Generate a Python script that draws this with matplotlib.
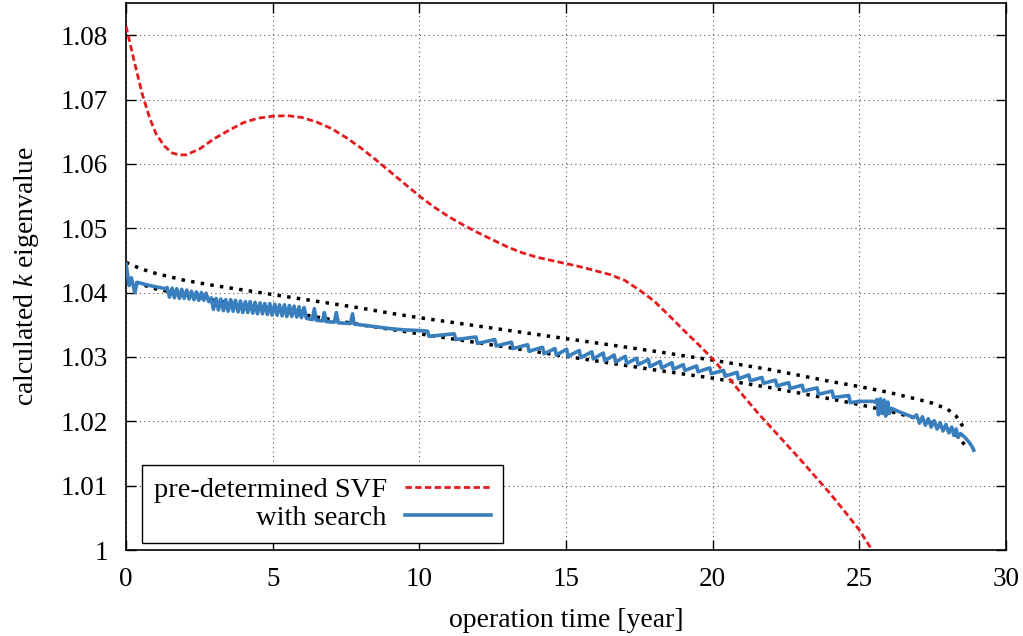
import matplotlib
matplotlib.use("Agg")
import matplotlib.pyplot as plt

plt.rcParams['font.family'] = ['Liberation Serif', 'DejaVu Serif']
plt.rcParams['mathtext.fontset'] = 'custom'
plt.rcParams['mathtext.it'] = 'Liberation Serif:italic'
plt.rcParams['mathtext.rm'] = 'Liberation Serif'

# ---- data ----
svf_x = [0.0, 0.25, 0.55, 0.8, 1.02, 1.3, 1.57, 1.8, 2.05, 2.5, 3.0, 3.5, 4.0, 4.5, 5.0,
         5.5, 6.0, 6.5, 7.0, 7.5, 8.0, 8.5, 9.0, 9.5, 10.0, 10.5, 11.0, 11.5, 12.0,
         12.5, 13.0, 13.5, 14.0, 14.5, 15.0, 15.5, 16.0, 16.5, 17.0, 17.5, 18.0,
         18.5, 19.0, 19.5, 20.0, 20.5, 21.0, 21.5, 22.0, 22.5, 23.0, 23.5, 24.0,
         24.5, 25.0, 25.5, 26.0]
svf_y = [1.0814, 1.0765, 1.0709, 1.0672, 1.0647, 1.0628, 1.0617, 1.0614, 1.0614, 1.0623,
         1.0639, 1.0652, 1.0664, 1.0671, 1.0674, 1.0675, 1.0672, 1.0665, 1.0655, 1.0641,
         1.0625, 1.0607, 1.0588, 1.0569, 1.0550, 1.0533, 1.0518, 1.0505, 1.0493, 1.0482,
         1.0471, 1.0462, 1.0455, 1.0450, 1.0445, 1.0440, 1.0434, 1.0428, 1.0419, 1.0404,
         1.0387, 1.0365, 1.0342, 1.0320, 1.0297, 1.0270, 1.0242, 1.0215, 1.0190, 1.0165,
         1.0140, 1.0114, 1.0088, 1.0060, 1.0031, 0.9995, 0.9958]

search_x = [0.0, 0.1, 0.18, 0.3, 0.38, 0.8, 1.35,
            1.40, 1.48, 1.57, 1.65, 1.73, 1.82, 1.90, 1.98, 2.07, 2.15, 2.23, 2.32, 2.40,
            2.48, 2.57, 2.65, 2.73, 2.82,
            2.90, 2.98, 3.07, 3.15, 3.23, 3.32, 3.40, 3.48, 3.57, 3.65, 3.73, 3.82, 3.90,
            3.98, 4.07, 4.15, 4.23, 4.32, 4.40, 4.48, 4.57, 4.65, 4.73, 4.82, 4.90, 4.98,
            5.07, 5.15, 5.23, 5.32, 5.40, 5.48, 5.57, 5.65, 5.73, 5.82, 5.90, 5.98, 6.07,
            6.15,
            6.35, 6.42, 6.48, 6.70, 6.76, 6.82, 7.10, 7.17, 7.23, 7.65, 7.72, 7.78, 8.5,
            9.0, 9.5, 10.0,
            10.28, 10.33, 11.19, 11.24, 11.93, 11.98, 12.57, 12.62, 13.14, 13.19, 13.69,
            13.74, 14.20, 14.25, 14.62, 14.67, 15.02, 15.07, 15.45, 15.50, 15.88, 15.93,
            16.27, 16.32, 16.64, 16.69, 17.02, 17.07, 17.41, 17.46, 17.81, 17.86, 18.21,
            18.26, 18.61, 18.66, 19.00, 19.05, 19.45, 19.50, 19.90, 19.95, 20.37, 20.42,
            20.83, 20.88, 21.23, 21.28, 21.68, 21.73, 22.14, 22.19, 22.59, 22.64, 23.05,
            23.10, 23.56, 23.61, 24.07, 24.12, 24.64, 24.69,
            25.0, 25.45, 25.55,
            25.6, 25.65, 25.72, 25.78, 25.85, 25.9, 25.97, 26.02, 26.1, 26.4, 26.85,
            26.95, 27.05, 27.15, 27.25, 27.35, 27.45, 27.55, 27.65, 27.75, 27.85, 27.95,
            28.05, 28.15, 28.22, 28.30, 28.37, 28.45,
            28.6, 28.75, 28.85, 28.9]
search_y = [1.0445, 1.0411, 1.0423, 1.0400, 1.0416, 1.0411, 1.0406,
            1.0408, 1.0393, 1.0407, 1.0392, 1.0406, 1.0391, 1.0405, 1.0391, 1.0404, 1.0390,
            1.0402, 1.0389, 1.0401, 1.0388, 1.0400, 1.0388, 1.0399, 1.0386,
            1.0392, 1.0374, 1.0391, 1.0373, 1.0390, 1.0372, 1.0389, 1.0371, 1.0389, 1.0371,
            1.0388, 1.0370, 1.0387, 1.0369, 1.0386, 1.0369, 1.0386, 1.0368, 1.0385, 1.0367,
            1.0384, 1.0367, 1.0383, 1.0366, 1.0383, 1.0365, 1.0382, 1.0365, 1.0381, 1.0364,
            1.0381, 1.0363, 1.0380, 1.0363, 1.0379, 1.0362, 1.0378, 1.0361, 1.0377, 1.0360,
            1.0358, 1.0375, 1.0357, 1.0356, 1.0369, 1.0355, 1.0354, 1.0369, 1.0353, 1.0352,
            1.0367, 1.0351, 1.0347, 1.0344, 1.0342, 1.0341,
            1.0340, 1.0332, 1.0336, 1.0327, 1.0331, 1.0321, 1.0327, 1.0317, 1.0323, 1.0313,
            1.0319, 1.0309, 1.0315, 1.0305, 1.0313, 1.0303, 1.0312, 1.0301, 1.0310, 1.0299,
            1.0308, 1.0297, 1.0306, 1.0294, 1.0303, 1.0292, 1.0301, 1.0290, 1.0298, 1.0288,
            1.0296, 1.0285, 1.0293, 1.0283, 1.0291, 1.0281, 1.0288, 1.0279, 1.0286, 1.0277,
            1.0283, 1.0274, 1.0279, 1.0270, 1.0276, 1.0266, 1.0272, 1.0263, 1.0268, 1.0259,
            1.0264, 1.0255, 1.0260, 1.0251, 1.0256, 1.0247, 1.0252, 1.0242, 1.0247, 1.0237,
            1.0240, 1.0229,
            1.0231, 1.0231, 1.0230,
            1.0234, 1.0210, 1.0235, 1.0212, 1.0233, 1.0208, 1.0230, 1.0212, 1.0220, 1.0214,
            1.0206,
            1.0210, 1.0197, 1.0207, 1.0194, 1.0204, 1.0191, 1.0201, 1.0188, 1.0198, 1.0185,
            1.0195, 1.0182, 1.0191, 1.0178, 1.0188, 1.0175, 1.0181,
            1.0175, 1.0167, 1.0160, 1.0155]

upper_x = [0, 0.5, 1, 2, 3, 4, 5, 6, 7, 8, 9, 10, 12, 14, 16, 18, 20, 22, 24, 25, 26,
           27, 27.5, 28, 28.3, 28.45, 28.6]
upper_y = [1.0447, 1.0437, 1.0430, 1.0419, 1.0411, 1.0404, 1.0397, 1.0390, 1.0383,
           1.0376, 1.0368, 1.0361, 1.0348, 1.0335, 1.0322, 1.0309, 1.0295, 1.0280,
           1.0262, 1.0254, 1.0245, 1.0234, 1.0228, 1.0219, 1.0208, 1.0198, 1.0186]

lower_x = [0, 0.5, 1, 2, 3, 4, 5, 6, 7, 8, 9, 10, 12, 14, 16, 18, 20, 22, 24, 25, 26,
           27, 27.5, 28, 28.3, 28.6]
lower_y = [1.0420, 1.0413, 1.0406, 1.0396, 1.0388, 1.0380, 1.0373, 1.0366, 1.0358,
           1.0350, 1.0343, 1.0336, 1.0322, 1.0308, 1.0294, 1.0280, 1.0267, 1.0252,
           1.0235, 1.0226, 1.0216, 1.0204, 1.0197, 1.0188, 1.0179, 1.0163]

x_ticks = [0, 5, 10, 15, 20, 25, 30]
y_ticks = [1.0, 1.01, 1.02, 1.03, 1.04, 1.05, 1.06, 1.07, 1.08]
y_ticklabels = ['1', '1.01', '1.02', '1.03', '1.04', '1.05', '1.06', '1.07', '1.08']

# ---- figure ----
fig = plt.figure(figsize=(10.23, 6.36), dpi=100)
ax = fig.add_axes([0.1232, 0.1352, 0.8602, 0.8601])

ax.plot(upper_x, upper_y, color='black', lw=2.5, dashes=(1, 1.8), zorder=3)
ax.plot(lower_x, lower_y, color='black', lw=2.5, dashes=(1, 1.8), zorder=3)
ax.plot(svf_x, svf_y, color='#e41a1c', lw=2.0, dashes=(2.3, 1.2),
        label='pre-determined SVF', zorder=4)
ax.plot(search_x, search_y, color='#3a7fbd', lw=2.6, label='with search', zorder=5)

ax.set_xlim(0, 30)
ax.set_ylim(1.0, 1.085)
ax.set_xticks(x_ticks)
ax.set_yticks(y_ticks)
ax.set_yticklabels(y_ticklabels)
ax.tick_params(direction='in', length=7, width=1, top=True, right=True,
               labelsize=19.5, colors='black')
ax.tick_params(axis='x', pad=12)
ax.tick_params(axis='y', pad=13)
ax.grid(True, color='#555555', lw=0.8, dashes=(1, 3))
for s in ax.spines.values():
    s.set_linewidth(1.2)

ax.set_xlabel('operation time [year]', fontsize=20, labelpad=12)
ax.set_ylabel('calculated $k$ eigenvalue', fontsize=20, labelpad=14)

leg = ax.legend(loc='lower left', bbox_to_anchor=(0.018, 0.013), markerfirst=False,
                fontsize=20.5, handlelength=3.0, handletextpad=0.65, labelspacing=0.08,
                borderpad=0.42, frameon=True, fancybox=False, framealpha=1,
                edgecolor='black', borderaxespad=0)
leg.get_frame().set_linewidth(1.0)

fig.savefig('out.png', dpi=100)
